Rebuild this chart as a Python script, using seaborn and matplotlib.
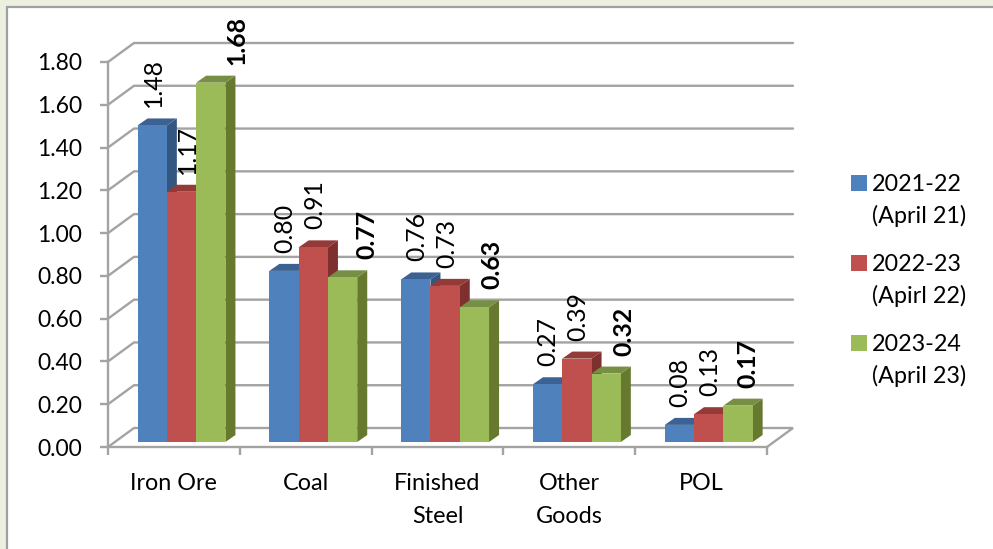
import numpy as np
import pandas as pd
import matplotlib
matplotlib.use("Agg")
import matplotlib.pyplot as plt
from matplotlib.patches import Polygon, Rectangle
from matplotlib.transforms import Affine2D, IdentityTransform
import seaborn as sns

categories = ["Iron Ore", "Coal", "Finished\nSteel", "Other\nGoods", "POL"]
series_names = ["2021-22\n(April 21)", "2022-23\n(Apirl 22)", "2023-24\n(April 23)"]
values_2122 = [1.48, 0.80, 0.76, 0.27, 0.08]
values_2223 = [1.17, 0.91, 0.73, 0.39, 0.13]
values_2324 = [1.68, 0.77, 0.63, 0.32, 0.17]
y_ticks = [0.0, 0.2, 0.4, 0.6, 0.8, 1.0, 1.2, 1.4, 1.6, 1.8]

front_colors = ["#4F81BD", "#C0504D", "#9BBB59"]
top_colors = ["#3B6293", "#943A38", "#768F44"]
side_colors = ["#335781", "#7E302E", "#66792F"]
grid_color = "#A3A3A3"

# sideways nudge of the value labels, the chart has them moved by hand
label_nudge = [[1.5, 1, 0.5, 0, 0], [6, 1.5, 1.5, 1, 1], [26, 24, 17.5, 17.5, 10]]

W, H = 993, 549
sns.set_theme(style="white")
plt.rcParams["font.family"] = ["Lato", "DejaVu Sans"]
FS = 16.8
FS_LABEL = 17.8

df = pd.DataFrame({
    "category": categories * 3,
    "series": np.repeat(series_names, 5),
    "value": values_2122 + values_2223 + values_2324,
})

fig = plt.figure(figsize=(W / 100, H / 100), dpi=100, facecolor="#EBF1DE")
# white card with the grey top and left border
fig.add_artist(Rectangle((6.5, -10), W + 20, H - 6.5 + 10, transform=IdentityTransform(),
                         facecolor="white", edgecolor="#A0A0A0", linewidth=1.6, zorder=-1))

ax = fig.add_axes([108 / W, (H - 447) / H, 659 / W, 385 / H])
ax.patch.set_alpha(0)

sns.barplot(data=df, x="category", y="value", hue="series", order=categories,
            hue_order=series_names, palette=front_colors, saturation=1,
            width=2 / 3, gap=0, linewidth=0, ax=ax)
ax.set_xlim(-0.5, 4.5)
ax.set_ylim(0, 1.8)

# back wall and floor
for v in y_ticks:
    x0, y0 = ax.transData.transform((-0.5, v))
    x1 = ax.transData.transform((4.5, v))[0]
    xs = [x0, x0 + 26, x1 + 26]
    ys = [y0, y0 + 19, y0 + 19]
    if v == 0:
        xs.append(x1)
        ys.append(y0)
    ax.plot(xs, ys, color=grid_color, lw=1.7, transform=IdentityTransform(),
            clip_on=False, zorder=1, solid_joinstyle="miter")

# bars sit a little inside the floor, add the 3d faces to each one
shift = Affine2D().translate(7.6, 5)
dx, dy = 10, 7
for i, cont in enumerate(ax.containers):
    for j, bar in enumerate(cont):
        bar.set_transform(ax.transData + shift)
        bar.set_zorder(3 + 2 * i + 1)
        (xa, ya), (xb, yb) = (ax.transData + shift).transform(
            [(bar.get_x(), 0), (bar.get_x() + bar.get_width(), bar.get_height())])
        side = [(xb, ya), (xb + dx, ya + dy), (xb + dx, yb + dy), (xb, yb)]
        top = [(xa, yb), (xa + dx, yb + dy), (xb + dx, yb + dy), (xb, yb)]
        ax.add_patch(Polygon(side, facecolor=side_colors[i], transform=IdentityTransform(),
                             clip_on=False, zorder=3 + 2 * i, lw=0))
        ax.add_patch(Polygon(top, facecolor=top_colors[i], transform=IdentityTransform(),
                             clip_on=False, zorder=3 + 2 * i, lw=0))
        ax.annotate(f"{bar.get_height():.2f}",
                    xy=(bar.get_x() + bar.get_width() / 2, bar.get_height()),
                    xytext=(7.6 + label_nudge[i][j], 23), textcoords="offset pixels",
                    rotation=90, ha="center", va="bottom", fontsize=FS_LABEL, color="black",
                    fontweight="bold" if i == 2 else "normal",
                    annotation_clip=False, zorder=20)

sns.despine(ax=ax, top=True, right=True)
for s in ["left", "bottom"]:
    ax.spines[s].set_color(grid_color)
    ax.spines[s].set_linewidth(1.7)
    ax.spines[s].set_zorder(2)

ax.set_xlabel("")
ax.set_ylabel("")
ax.set_yticks(y_ticks)
ax.set_yticklabels([f"{t:.2f}" for t in y_ticks], fontsize=16.5, color="black")
ax.set_xticks(np.arange(-0.5, 5), minor=True)
ax.set_xticks(range(5))
ax.set_xticklabels(categories, fontsize=FS, color="black", linespacing=1.7)
ax.tick_params(axis="y", length=5.5, width=1.7, color=grid_color, pad=13, left=True)
ax.tick_params(axis="x", which="major", length=0, pad=19)
ax.tick_params(axis="x", which="minor", length=6, width=1.7, color=grid_color, bottom=True)

leg = ax.legend(frameon=False, fontsize=FS, loc="upper left",
                bbox_to_anchor=(842 / W, (H - 165) / H), bbox_transform=fig.transFigure,
                handlelength=0.65, handleheight=0.65, handletextpad=0.25,
                labelspacing=1.15, borderpad=0.4, borderaxespad=0)
for txt in leg.get_texts():
    txt.set_linespacing(1.55)
    txt.set_color("black")
# legend swatch goes beside the first line of the label
for h in leg.legend_handles:
    h.set_y(h.get_y() + 13)

fig.savefig("out.png", dpi=100, facecolor=fig.get_facecolor())
